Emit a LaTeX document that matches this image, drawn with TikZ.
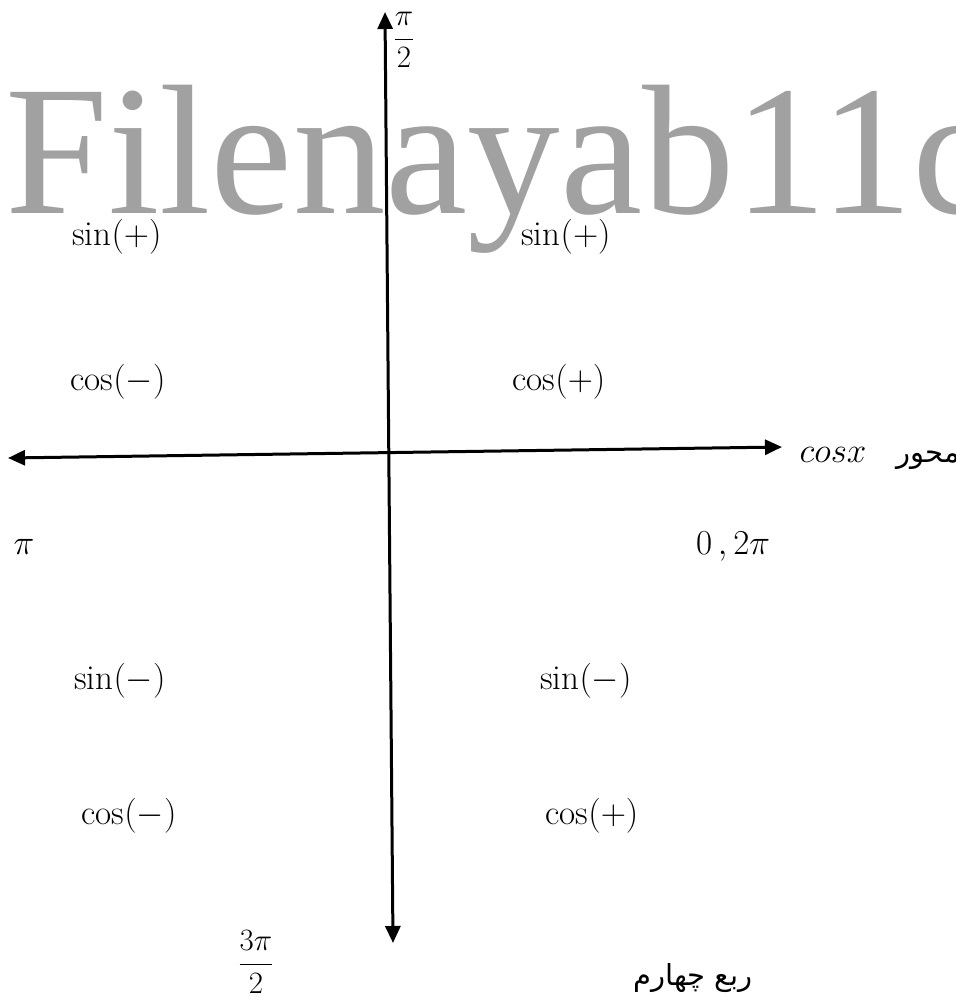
\RequirePackage{fix-cm}
\documentclass[tikz,border=0pt]{standalone}
\usepackage{fontspec}
\usetikzlibrary{arrows.meta}
\newfontfamily\wmfont{Liberation Serif}
\newfontfamily\arabicfont[Script=Arabic]{DejaVu Sans}
\TeXXeTstate=1
\definecolor{wmgray}{RGB}{131,131,131}
\begin{document}
\begin{tikzpicture}[x=1pt,y=-1pt,
  lbl/.style={inner sep=0pt, font=\fontsize{35}{40}\selectfont},
  frac/.style={inner sep=0pt, font=\fontsize{31}{36}\selectfont},
  fa/.style={inner sep=0pt, font=\arabicfont\fontsize{29}{34}\selectfont},
  axisline/.style={line width=3pt, {Triangle[length=17pt,width=15pt]}-{Triangle[length=17pt,width=15pt]}}]
\useasboundingbox (0,0) rectangle (956,1005);
% axes
\coordinate (vt) at (385,12);
\coordinate (vb) at (393,943);
\coordinate (hl) at (8,458);
\coordinate (hr) at (782,447);
\draw[axisline] (vb) -- (vt);
\draw[axisline] (hl) -- (hr);
% labels
\node[frac] (pihalf) at (404,40) {$\displaystyle\frac{\pi}{2}$};
\node[frac] (threepihalf) at (256,962) {$\displaystyle\frac{3\pi}{2}$};
\node[lbl] (s1) at (117,237) {$\sin(+)$};
\node[lbl] (s2) at (566,237) {$\sin(+)$};
\node[lbl] (c2) at (118,382) {$\cos(-)$};
\node[lbl] (c1) at (559,382) {$\cos(+)$};
\node[lbl] (s3) at (120,681) {$\sin(-)$};
\node[lbl] (s4) at (586,681) {$\sin(-)$};
\node[lbl] (c3) at (129,816) {$\cos(-)$};
\node[lbl] (c4) at (592,816) {$\cos(+)$};
\node[lbl] (pi) at (24,547) {$\pi$};
\node[lbl] (zero) at (733,547) {$0\,,2\pi$};
\node[lbl] (cosx) at (833,455) {$cosx$};
\node[fa, anchor=east] (mehvar) at (960,460) {\beginR محور\endR};
\node[fa] (q4) at (693,978) {\beginR ربع چهارم\endR};
% watermark
\begin{scope}
\clip (0,0) rectangle (956,1005);
\node[anchor=base west, inner sep=0pt, text=wmgray, opacity=0.76, font=\wmfont\fontsize{185}{185}\selectfont] (wm) at (5,213) {Filenayab11c};
\end{scope}
\end{tikzpicture}
\end{document}
